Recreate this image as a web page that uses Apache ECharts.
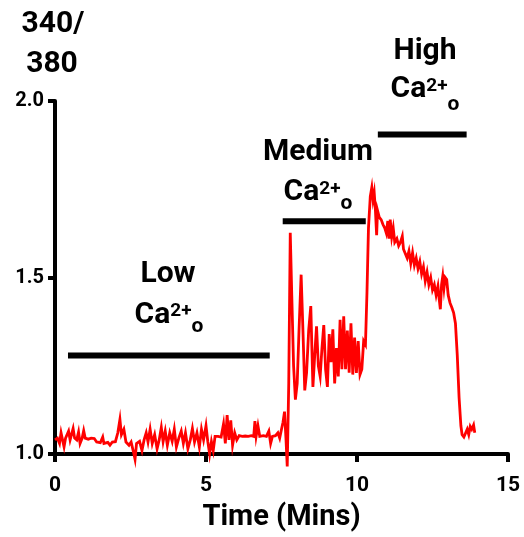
<!DOCTYPE html>
<html>
<head>
<meta charset="utf-8">
<script src="https://cdn.jsdelivr.net/npm/echarts@6/dist/echarts.min.js"></script>
<style>
html,body{margin:0;padding:0;background:#fff;}
#chart{width:524px;height:537px;}
</style>
</head>
<body>
<div id="chart"></div>
<script>
// ---- data ----
const timeMin = [
0.00,0.08,0.15,0.20,0.25,0.30,0.35,0.45,0.50,0.60,0.65,0.72,0.78,0.83,0.90,0.95,1.00,1.10,1.20,1.30,
1.38,1.50,1.58,1.62,1.75,1.82,1.90,2.00,2.08,2.15,2.20,2.28,2.35,2.45,2.52,2.60,2.65,2.70,2.80,2.88,
2.95,3.02,3.08,3.15,3.22,3.30,3.38,3.45,3.52,3.58,3.65,3.72,3.80,3.88,3.95,4.02,4.10,4.18,4.25,4.32,
4.40,4.48,4.55,4.62,4.70,4.78,4.85,4.92,5.00,5.06,5.12,5.18,5.24,5.30,5.40,5.50,5.58,5.64,5.70,5.76,
5.82,5.88,5.95,6.02,6.10,6.20,6.30,6.40,6.50,6.58,6.62,6.66,6.72,6.78,6.90,7.00,7.08,7.14,7.20,7.30,
7.38,7.44,7.50,7.55,7.60,7.65,7.69,7.74,7.79,7.84,7.90,7.96,8.02,8.08,8.15,8.21,8.27,8.33,8.40,8.47,
8.54,8.60,8.66,8.72,8.78,8.84,8.90,8.96,9.02,9.08,9.14,9.20,9.26,9.32,9.38,9.44,9.50,9.56,9.62,9.68,
9.74,9.80,9.86,9.92,9.98,10.04,10.10,10.16,10.22,10.28,10.33,10.38,10.44,10.49,10.53,10.57,10.61,10.65,10.68,10.74,
10.80,10.86,10.92,10.97,11.02,11.06,11.10,11.15,11.20,11.25,11.32,11.38,11.44,11.50,11.54,11.60,11.66,11.72,11.78,11.84,
11.90,11.96,12.02,12.08,12.14,12.20,12.26,12.32,12.38,12.44,12.50,12.56,12.62,12.68,12.72,12.76,12.80,12.84,12.88,12.92,
12.97,13.02,13.08,13.14,13.20,13.26,13.32,13.38,13.44,13.48,13.54,13.60,13.65,13.70,13.75,13.80,13.86,13.90
];
const ratio = [
1.040,1.045,1.030,1.060,1.040,1.020,1.045,1.065,1.040,1.072,1.045,1.040,1.062,1.030,1.045,1.066,1.045,1.042,1.045,1.044,
1.034,1.032,1.048,1.030,1.033,1.025,1.034,1.035,1.060,1.098,1.055,1.070,1.034,1.025,1.034,1.005,0.985,1.030,1.036,1.010,
1.040,1.060,1.034,1.070,1.030,1.055,1.015,1.040,1.075,1.035,1.065,1.025,1.060,1.036,1.070,1.020,1.045,1.065,1.030,1.060,
1.015,1.040,1.072,1.034,1.060,1.020,1.070,1.040,1.080,1.035,1.000,1.035,1.010,1.050,1.050,1.048,1.085,1.030,1.110,1.040,
1.095,1.025,1.060,1.040,1.052,1.050,1.051,1.050,1.052,1.050,1.093,1.050,1.080,1.050,1.052,1.050,1.065,1.030,1.050,1.052,
1.060,1.045,1.070,1.090,1.120,1.040,0.965,1.200,1.627,1.450,1.250,1.154,1.200,1.350,1.508,1.350,1.180,1.230,1.350,1.419,
1.190,1.280,1.362,1.250,1.220,1.300,1.365,1.240,1.190,1.340,1.260,1.353,1.200,1.300,1.220,1.380,1.240,1.390,1.240,1.350,
1.230,1.370,1.225,1.330,1.230,1.320,1.225,1.240,1.320,1.310,1.457,1.640,1.730,1.755,1.720,1.740,1.690,1.620,1.690,1.670,
1.664,1.650,1.640,1.626,1.660,1.610,1.664,1.615,1.640,1.600,1.610,1.590,1.600,1.617,1.580,1.575,1.555,1.575,1.540,1.570,
1.535,1.555,1.525,1.545,1.510,1.530,1.490,1.515,1.480,1.500,1.465,1.480,1.450,1.475,1.440,1.410,1.480,1.504,1.470,1.500,
1.494,1.450,1.428,1.415,1.400,1.370,1.280,1.160,1.080,1.055,1.048,1.050,1.070,1.055,1.078,1.070,1.082,1.060
];
// condition bars: [start, end] in minutes, and level on the ratio axis
const lowBar = [0.43, 7.11];
const lowBarLevel = 1.279;
const mediumBar = [7.54, 10.29];
const mediumBarLevel = 1.659;
const highBar = [10.69, 13.63];
const highBarLevel = 1.905;
const xTicks = [0, 5, 10, 15];
const yTicks = [1.0, 1.5, 2.0];

// ---- chart ----
const chart = echarts.init(document.getElementById('chart'), null, {renderer: 'canvas'});
const trace = timeMin.map((t, i) => [t, ratio[i]]);
const FONT = 'Roboto';
function barSeries(range, level) {
  return {
    type: 'line', data: [[range[0], level], [range[1], level]],
    symbol: 'none', silent: true, z: 3,
    lineStyle: {color: '#000', width: 6, cap: 'butt'}
  };
}
function caRich(subPad) {
  return {
    b: {fontSize: 30, fontWeight: 'bold', fontFamily: FONT, color: '#000', lineHeight: 36, verticalAlign: 'top'},
    sup: {fontSize: 19, fontWeight: 'bold', fontFamily: FONT, color: '#000', lineHeight: 18, verticalAlign: 'top',
          padding: [2, 0, 0, 0]},
    sub: {fontSize: 21, fontWeight: 'bold', fontFamily: FONT, color: '#000', lineHeight: 12, verticalAlign: 'top',
          padding: [subPad, 0, 0, 0]}
  };
}
function label(text, x, y) {
  return {type: 'text', x: x, y: y, z: 10, style: {
    text: text, fontSize: 30, fontWeight: 'bold', fontFamily: FONT, fill: '#000',
    align: 'center', verticalAlign: 'middle'}};
}
// top = top of the text line; subPad sets how low the subscript sits
function caLabel(x, top, subPad) {
  return {type: 'text', x: x, y: top, z: 10, style: {
    text: '{b|Ca}{sup|2+}{sub|o}', rich: caRich(subPad), align: 'center', verticalAlign: 'top'}};
}
const option = {
  animation: false,
  backgroundColor: '#fff',
  grid: {left: 55, right: 16, top: 101, bottom: 83, containLabel: false},
  xAxis: {
    type: 'value', min: 0, max: 15, interval: 5,
    name: 'Time (Mins)', nameLocation: 'middle', nameGap: 49,
    nameTextStyle: {fontSize: 29, fontWeight: 'bold', fontFamily: FONT, color: '#000'},
    axisLine: {show: true, onZero: false, lineStyle: {color: '#000', width: 4}},
    axisTick: {show: true, length: 8, lineStyle: {color: '#000', width: 4}},
    axisLabel: {fontSize: 21, fontWeight: 'bold', fontFamily: FONT, color: '#000', margin: 21,
      formatter: v => xTicks.includes(v) ? String(v) : ''},
    splitLine: {show: false}
  },
  yAxis: {
    type: 'value', min: 1.0, max: 2.0, interval: 0.5,
    axisLine: {show: true, onZero: false, lineStyle: {color: '#000', width: 4}},
    axisTick: {show: true, length: 7, lineStyle: {color: '#000', width: 4}},
    axisLabel: {fontSize: 20, fontWeight: 'bold', fontFamily: FONT, color: '#000', margin: 11,
      formatter: v => yTicks.some(t => Math.abs(t - v) < 1e-9) ? v.toFixed(1) : ''},
    splitLine: {show: false}
  },
  series: [
    {type: 'line', data: trace, symbol: 'none', silent: true, z: 2, clip: false,
     lineStyle: {color: '#ff0000', width: 2.8, join: 'miter'}},
    barSeries(lowBar, lowBarLevel),
    barSeries(mediumBar, mediumBarLevel),
    barSeries(highBar, highBarLevel)
  ],
  graphic: [
    label('340/', 53, 24),
    label('380', 52, 64),
    label('Low', 168, 274),
    caLabel(169, 300, 16.5),
    label('Medium', 318, 152),
    caLabel(318, 177.5, 16),
    label('High', 425, 51),
    caLabel(425, 74.5, 20)
  ]
};
chart.setOption(option);
</script>
</body>
</html>
